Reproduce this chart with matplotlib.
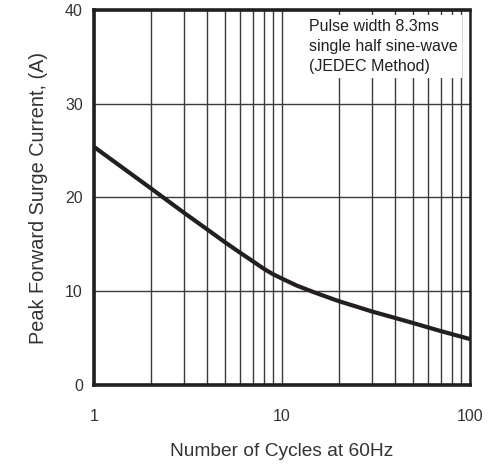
import matplotlib
matplotlib.use("Agg")
import matplotlib.pyplot as plt
from matplotlib.ticker import FixedLocator, NullFormatter

plt.rcParams['font.family'] = ['Liberation Sans', 'DejaVu Sans']

# surge current curve
cycles = [1, 2, 3, 4, 5, 6, 7, 8, 9, 10, 12, 15, 20, 25, 30, 40, 50, 70, 100]
current = [25.4, 21.0, 18.4, 16.6, 15.2, 14.1, 13.2, 12.4, 11.8, 11.35,
           10.6, 9.85, 8.95, 8.35, 7.85, 7.15, 6.6, 5.75, 4.9]

x_ticks = [1, 10, 100]
x_ticklabels = ['1', '10', '100']
y_ticks = [0, 10, 20, 30, 40]
minor_x = [2, 3, 4, 5, 6, 7, 8, 9, 20, 30, 40, 50, 60, 70, 80, 90]

fig = plt.figure(figsize=(4.91, 4.68), dpi=100)
ax = fig.add_axes([0.1914, 0.1774, 0.7656, 0.8012])

ax.plot(cycles, current, color='#231f20', lw=3, solid_capstyle='butt',
        solid_joinstyle='round', zorder=4)

ax.set_xscale('log')
ax.set_xlim(1, 100)
ax.set_ylim(0, 40)
ax.set_xticks(x_ticks)
ax.set_xticklabels(x_ticklabels)
ax.xaxis.set_minor_locator(FixedLocator(minor_x))
ax.xaxis.set_minor_formatter(NullFormatter())
ax.set_yticks(y_ticks)

ax.grid(True, which='both', axis='x', color='#3a3a3a', lw=1.0)
ax.grid(True, which='major', axis='y', color='#3a3a3a', lw=1.0)
ax.tick_params(which='both', length=0, labelsize=11.5, colors='#333333')
ax.tick_params(axis='x', pad=17)
ax.tick_params(axis='y', pad=8)

for side in ['left', 'bottom', 'top']:
    ax.spines[side].set_linewidth(2.6)
    ax.spines[side].set_color('#231f20')
ax.spines['right'].set_linewidth(1.8)
ax.spines['right'].set_color('#231f20')

ax.text(0.572, 0.976, 'Pulse width 8.3ms\nsingle half sine-wave\n(JEDEC Method)',
        transform=ax.transAxes, ha='left', va='top', fontsize=11.5,
        color='#231f20', linespacing=1.4, zorder=5,
        bbox=dict(facecolor='white', edgecolor='none', pad=3))

ax.set_xlabel('Number of Cycles at 60Hz', fontsize=13.8, color='#333333', labelpad=14)
ax.set_ylabel('Peak Forward Surge Current, (A)', fontsize=14.3, color='#333333', labelpad=12)

fig.savefig('out.png', dpi=100)
